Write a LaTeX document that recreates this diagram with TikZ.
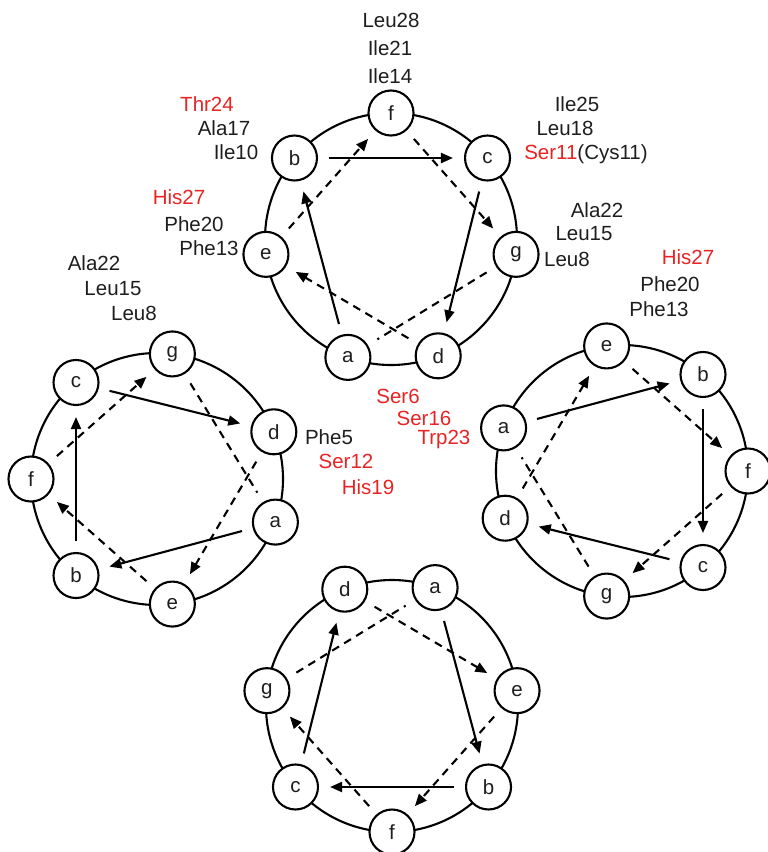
\documentclass[tikz,border=0pt]{standalone}
\usepackage{fontspec}
\setmainfont{Liberation Sans}
\usetikzlibrary{arrows.meta}
\definecolor{redtxt}{RGB}{232,35,35}
\definecolor{inktxt}{RGB}{30,30,30}
\newcommand\helixwheel[4]{%
  \draw[wheelring] (#2,#3) circle[radius=126];
  \foreach \n/\a in {f/90,c/40,g/-7,d/-68,a/250,e/187,b/140}{
    \node[res] (#1\n) at ({#2+126*cos(\a+#4)},{#3-126*sin(\a+#4)}) {\n};
  }
  \draw[sol] (#1a) -- (#1b);
  \draw[sol] (#1b) -- (#1c);
  \draw[sol] (#1c) -- (#1d);
  \draw[dsh] (#1d) -- (#1e);
  \draw[dsh] (#1e) -- (#1f);
  \draw[dsh] (#1f) -- (#1g);
  \draw[dshn] (#1g) -- (#1a);
}
\begin{document}
\begin{tikzpicture}[x=1pt,y=-1pt,
  res/.style={circle,draw,fill=white,line width=2.1pt,minimum size=45pt,inner sep=0pt,text=inktxt,font=\fontsize{20.5}{24}\selectfont},
  wheelring/.style={line width=2.1pt},
  sol/.style={line width=2.1pt,shorten <=11pt,shorten >=11pt,-{Triangle[length=12pt,width=10pt]}},
  dsh/.style={sol,dash pattern=on 8pt off 6pt},
  dshn/.style={line width=2.1pt,shorten <=11pt,shorten >=11pt,dash pattern=on 8pt off 6pt},
  lbl/.style={anchor=base,inner sep=0pt,text=inktxt,font=\fontsize{20.5}{24}\selectfont},
  rlbl/.style={lbl,text=redtxt}]
\useasboundingbox (0,0) rectangle (768,852);

\helixwheel{T}{391}{239}{0}
\helixwheel{L}{157}{479}{90}
\helixwheel{R}{622}{471}{-90}
\helixwheel{B}{392}{706}{180}

% top wheel labels
\node[lbl] (t1) at (391,27) {Leu28};
\node[lbl] (t2) at (390,55) {Ile21};
\node[lbl] (t3) at (390,83.5) {Ile14};
\node[rlbl] (t4) at (207,111) {Thr24};
\node[lbl] (t5) at (224,135) {Ala17};
\node[lbl] (t6) at (236,159) {Ile10};
\node[rlbl] (t7) at (179,204) {His27};
\node[lbl] (t8) at (194,231) {Phe20};
\node[lbl] (t9) at (209,255) {Phe13};
\node[lbl] (t10) at (577,111.5) {Ile25};
\node[lbl] (t11) at (565,135) {Leu18};
\node[lbl] (t12) at (586,159) {\textcolor{redtxt}{Ser11}(Cys11)};
\node[lbl] (t13) at (597,217) {Ala22};
\node[lbl] (t14) at (584,240.5) {Leu15};
\node[lbl] (t15) at (567,266.5) {Leu8};

% left wheel labels
\node[lbl] (l1) at (94,270) {Ala22};
\node[lbl] (l2) at (113,295.5) {Leu15};
\node[lbl] (l3) at (134,320.5) {Leu8};
\node[lbl] (l4) at (329,444) {Phe5};
\node[rlbl] (l5) at (346,468.5) {Ser12};
\node[rlbl] (l6) at (368,494) {His19};

% right wheel labels
\node[rlbl] (r1) at (688,264) {His27};
\node[lbl] (r2) at (670,291.5) {Phe20};
\node[lbl] (r3) at (659,316) {Phe13};

% centre labels
\node[rlbl] (c1) at (398,403) {Ser6};
\node[rlbl] (c2) at (424,425) {Ser16};
\node[rlbl] (c3) at (444,444) {Trp23};
\end{tikzpicture}
\end{document}
